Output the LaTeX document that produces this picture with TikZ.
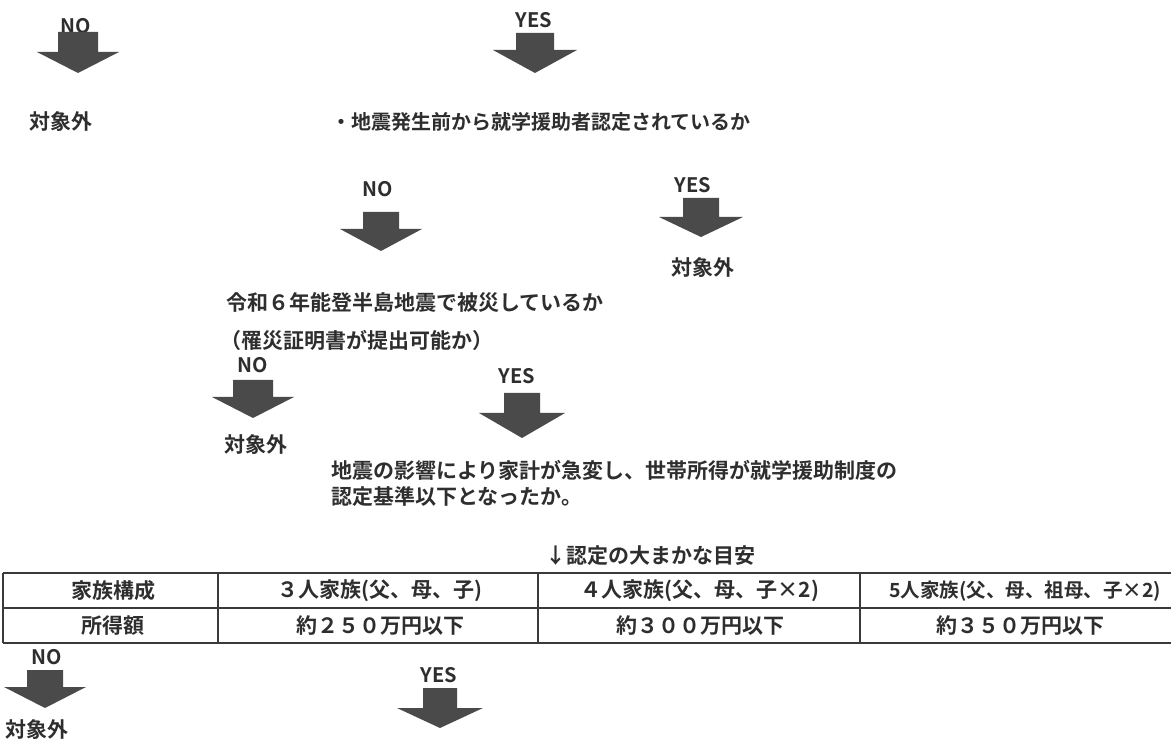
\documentclass[tikz,border=0pt]{standalone}
\usepackage{fontspec}
\setmainfont{Noto Sans CJK JP}[BoldFont={Noto Sans CJK JP Bold}]
\definecolor{ink}{HTML}{2E2E2E}
\definecolor{arrgray}{HTML}{4A4A4A}
\definecolor{rule}{HTML}{3A3A3A}
\begin{document}
\begin{tikzpicture}[x=1pt,y=-1pt,
  yn/.style={font=\fontsize{20}{20}\selectfont\bfseries, text=ink, inner sep=0pt},
  jp/.style={font=\fontsize{21}{21}\selectfont\bfseries, text=ink, inner sep=0pt},
  jpw/.style={jp, anchor=west},
  cell/.style={font=\fontsize{21}{21}\selectfont\bfseries, text=ink, inner sep=0pt},
  tbl/.style={draw=rule, line width=1.4pt},
  arrfill/.style={fill=arrgray},
  pics/downarr/.style n args={4}{code={%
    \fill[arrfill] (-#1,0) -- (#1,0) -- (#1,#3) -- (#2,#3) -- (0,#4) -- (-#2,#3) -- (-#1,#3) -- cycle;}}
]
\useasboundingbox (0,0) rectangle (1171,743);

% ---- level 1
\node[yn] (no1) at (76,26) {NO};
\node[yn] (yes1) at (534,20) {YES};
\pic (a1) at (78,32) {downarr={20}{41}{20}{41}};
\pic (a2) at (535,33) {downarr={19}{42}{17}{40}};
\node[jp] (out1) at (61,122) {対象外};
\node[jpw, font=\fontsize{20}{20}\selectfont\bfseries] (q1) at (331,122) {・地震発生前から就学援助者認定されているか};

% ---- level 2
\pic (a3) at (381,212) {downarr={18}{41}{17}{39}};
\pic (a4) at (701,198) {downarr={18}{42}{19}{39}};
\node[yn] (no2) at (378,189) {NO};
\node[yn] (yes2) at (693,185) {YES};
\node[jp] (out2) at (703,268) {対象外};
\node[jpw] (q2a) at (226,303) {令和６年能登半島地震で被災しているか};
\node[jpw] (q2b) at (220,340) {（罹災証明書が提出可能か）};

% ---- level 3
\pic (a5) at (253,380) {downarr={20}{41}{17}{38}};
\pic (a6) at (522,393) {downarr={18}{43}{20}{45}};
\node[yn] (no3) at (253,365) {NO};
\node[yn] (yes3) at (517,376) {YES};
\node[jp] (out3) at (256,445) {対象外};
\node[jpw] (q3a) at (331,470) {地震の影響により家計が急変し、世帯所得が就学援助制度の};
\node[jpw] (q3b) at (331,497) {認定基準以下となったか。};
\node[jpw] (guide) at (545,556) {↓認定の大まかな目安};

% ---- table
\draw[tbl] (3,573) -- (1171,573);
\draw[tbl] (3,608) -- (1171,608);
\draw[tbl] (3,643) -- (1171,643);
\draw[tbl] (3,573) -- (3,643);
\draw[tbl] (218,573) -- (218,643);
\draw[tbl] (538,573) -- (538,643);
\draw[tbl] (860,573) -- (860,643);
\node[cell] (h0) at (113,591) {家族構成};
\node[cell] (h1) at (380,591) {３人家族(父、母、子)};
\node[cell] (h2) at (700,591) {４人家族(父、母、子×2)};
\node[cell, font=\fontsize{19.5}{19.5}\selectfont\bfseries] (h3) at (1025,591) {5人家族(父、母、祖母、子×2)};
\node[cell] (r0) at (113,626) {所得額};
\node[cell] (r1) at (380,626) {約２５０万円以下};
\node[cell] (r2) at (700,626) {約３００万円以下};
\node[cell] (r3) at (1020,626) {約３５０万円以下};

% ---- level 4
\pic (a7) at (45,670) {downarr={18}{41}{17}{38}};
\pic (a8) at (440,688) {downarr={17}{43}{20}{40}};
\node[yn] (no4) at (47,657) {NO};
\node[yn] (yes4) at (439,675) {YES};
\node[jp] (out4) at (37,730) {対象外};
\end{tikzpicture}
\end{document}
